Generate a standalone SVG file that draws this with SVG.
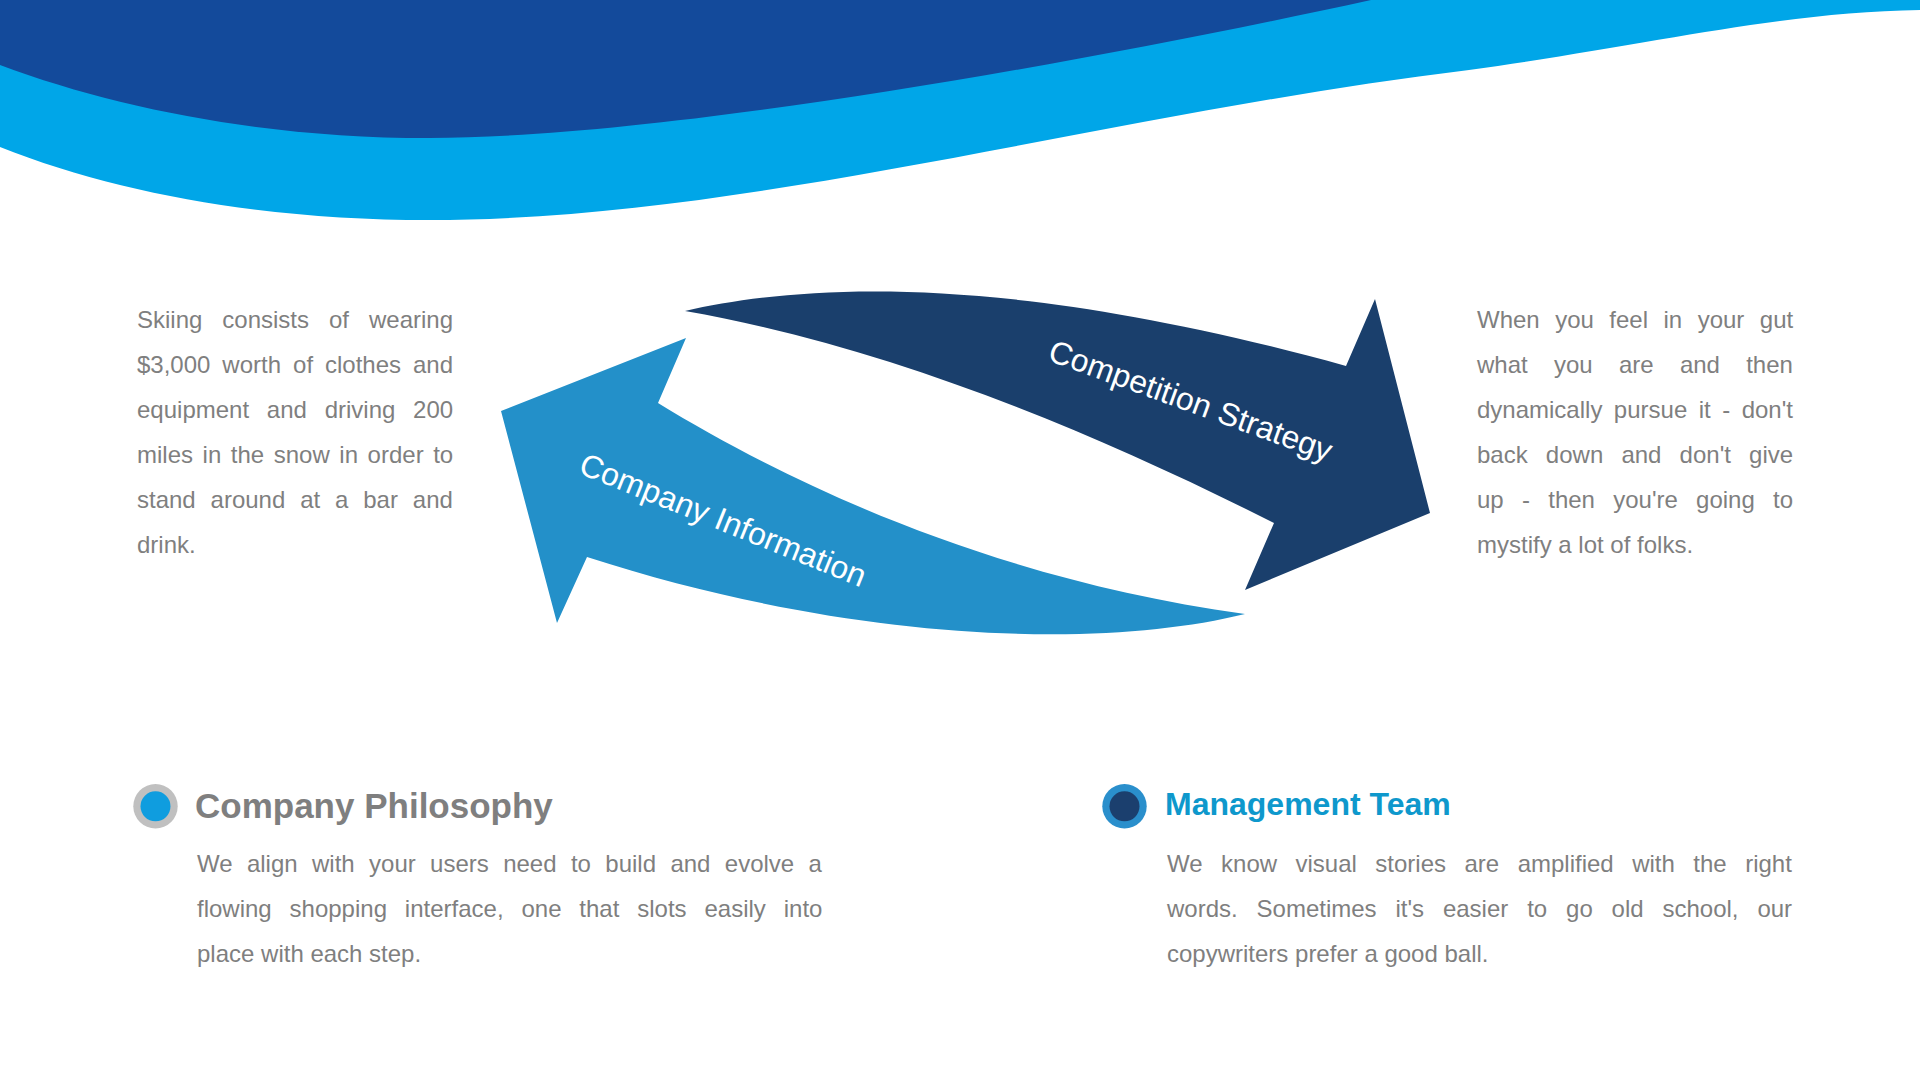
<svg xmlns="http://www.w3.org/2000/svg" width="1920" height="1080" viewBox="0 0 1920 1080">
<style>
.body{font-family:"Liberation Sans",Arial,sans-serif;font-size:24px;fill:#7f7f7f}
.lbl{font-family:"Liberation Sans",Arial,sans-serif;font-size:32px;fill:#ffffff;text-anchor:middle}
.head{font-family:"Liberation Sans",Arial,sans-serif;font-weight:bold}
</style>
<rect width="1920" height="1080" fill="#ffffff"/>
<g id="wave">
<path d="M0,0 L0,147 C120,195 270,220 429,220 C750,220 1100,115 1469,70 C1650,45 1780,12 1920,10 L1920,0 Z" fill="#00a6e8"/>
<path d="M0,0 L0,65 C120,110 270,138 429,138 C650,138 1050,70 1371,0 Z" fill="#134a9b"/>
</g>
<g id="node-competition">
<path d="M685,311 C800,285 1000,270 1346,366 L1375,299 L1430,513 L1245,590 L1274,523 C1080,425 880,345 685,311 Z" fill="#1a3f6c"/>
<text class="lbl" transform="translate(1187,411) rotate(20)">Competition Strategy</text>
</g>
<g id="node-company-info">
<path d="M1245,614 C1100,650 850,642 587,557 L557,623 L501,411 L686,338 L658,403 C800,490 1000,580 1245,614 Z" fill="#2390c9"/>
<text class="lbl" transform="translate(719,530) rotate(22)">Company Information</text>
</g>
<g id="connectors"></g>
<g id="text-left">
<text class="body" x="137" y="328" style="word-spacing:13.3px">Skiing consists of wearing</text>
<text class="body" x="137" y="373" style="word-spacing:5.3px">$3,000 worth of clothes and</text>
<text class="body" x="137" y="418" style="word-spacing:11.1px">equipment and driving 200</text>
<text class="body" x="137" y="463" style="word-spacing:2.9px">miles in the snow in order to</text>
<text class="body" x="137" y="508" style="word-spacing:8.2px">stand around at a bar and</text>
<text class="body" x="137" y="553">drink.</text>
</g>
<g id="text-right">
<text class="body" x="1477" y="328" style="word-spacing:8.8px">When you feel in your gut</text>
<text class="body" x="1477" y="373" style="word-spacing:19.6px">what you are and then</text>
<text class="body" x="1477" y="418" style="word-spacing:4.8px">dynamically pursue it - don't</text>
<text class="body" x="1477" y="463" style="word-spacing:11.5px">back down and don't give</text>
<text class="body" x="1477" y="508" style="word-spacing:11.6px">up - then you're going to</text>
<text class="body" x="1477" y="553">mystify a lot of folks.</text>
</g>
<g id="node-philosophy">
<circle cx="155.5" cy="806.3" r="22.2" fill="#c0c0c0"/>
<circle cx="155.5" cy="806.3" r="15" fill="#0f9ddf"/>
<text class="head" x="195" y="817.5" font-size="35" fill="#7f7f7f">Company Philosophy</text>
<text class="body" x="197" y="872" style="word-spacing:7.7px">We align with your users need to build and evolve a</text>
<text class="body" x="197" y="917" style="word-spacing:11.2px">flowing shopping interface, one that slots easily into</text>
<text class="body" x="197" y="962">place with each step.</text>
</g>
<g id="node-management">
<circle cx="1124.5" cy="806.3" r="22.2" fill="#2a8fcc"/>
<circle cx="1124.5" cy="806.3" r="15" fill="#1b3f6e"/>
<text class="head" x="1165" y="815" font-size="32" fill="#0e98cc">Management Team</text>
<text class="body" x="1167" y="872" style="word-spacing:11.8px">We know visual stories are amplified with the right</text>
<text class="body" x="1167" y="917" style="word-spacing:12.2px">words. Sometimes it's easier to go old school, our</text>
<text class="body" x="1167" y="962">copywriters prefer a good ball.</text>
</g>
</svg>
